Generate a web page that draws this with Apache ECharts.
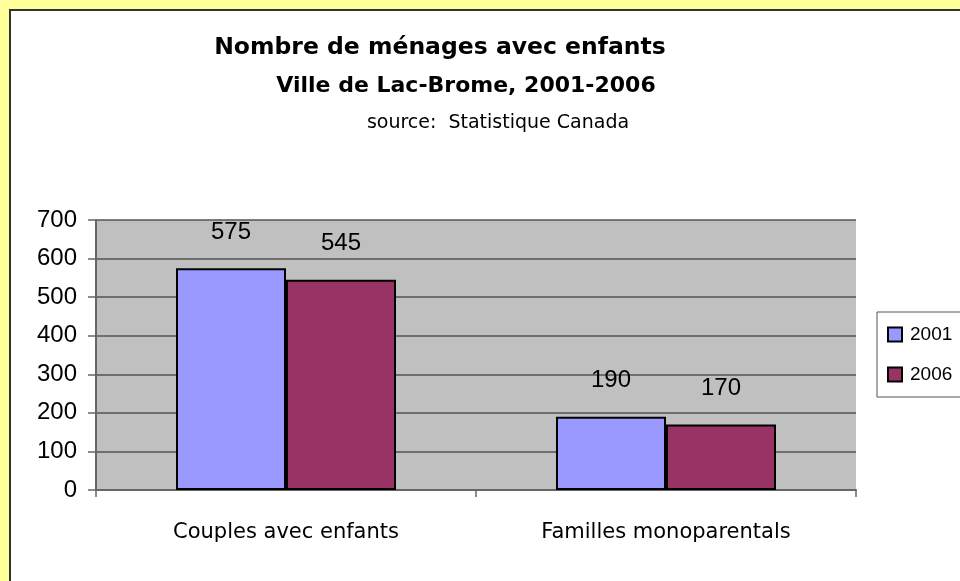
<!DOCTYPE html>
<html>
<head>
<meta charset="utf-8">
<script src="https://cdn.jsdelivr.net/npm/echarts@6/dist/echarts.min.js"></script>
<style>
  html, body { margin: 0; padding: 0; background: #FFFF99; }
  #chart { width: 960px; height: 581px; }
</style>
</head>
<body>
<div id="chart"></div>
<script>
// données
var categories = ['Couples avec enfants', 'Familles monoparentals']
var values2001 = [575, 190]
var values2006 = [545, 170]
var yTicks = [0, 100, 200, 300, 400, 500, 600, 700]

var chart = echarts.init(document.getElementById('chart'))

var labelStyle = {
  show: true,
  position: 'top',
  distance: 24,
  color: '#000',
  fontSize: 24,
  fontFamily: 'Liberation Sans'
}

var option = {
  backgroundColor: '#FFFF99',
  animation: false,
  graphic: [
    // zone blanche
    {
      type: 'rect',
      z: -10,
      shape: { x: 10, y: 10, width: 960, height: 590 },
      style: { fill: '#fff', stroke: '#333', lineWidth: 2 }
    },
    {
      type: 'text',
      x: 440, y: 48,
      style: {
        text: 'Nombre de ménages avec enfants',
        font: 'bold 23.5px "DejaVu Sans"',
        fill: '#000',
        textAlign: 'center',
        textVerticalAlign: 'middle'
      }
    },
    {
      type: 'text',
      x: 466, y: 86,
      style: {
        text: 'Ville de Lac-Brome, 2001-2006',
        font: 'bold 22px "DejaVu Sans"',
        fill: '#000',
        textAlign: 'center',
        textVerticalAlign: 'middle'
      }
    },
    {
      type: 'text',
      x: 498, y: 123,
      style: {
        text: 'source:  Statistique Canada',
        font: '19px "DejaVu Sans"',
        fill: '#000',
        textAlign: 'center',
        textVerticalAlign: 'middle'
      }
    }
  ],
  legend: {
    orient: 'vertical',
    left: 877,
    top: 312,
    width: 100,
    padding: [13, 40, 13, 10],
    itemGap: 21,
    itemWidth: 14,
    itemHeight: 14,
    borderColor: '#555',
    borderWidth: 1,
    backgroundColor: '#fff',
    icon: 'rect',
    itemStyle: { borderColor: '#000', borderWidth: 2 },
    textStyle: { fontSize: 19, fontFamily: 'Liberation Sans', color: '#000', padding: [0, 0, 0, 3] },
    data: ['2001', '2006']
  },
  grid: {
    left: 96,
    top: 220,
    right: 104,
    bottom: 91,
    show: true,
    backgroundColor: '#C0C0C0',
    borderWidth: 0
  },
  xAxis: {
    type: 'category',
    data: categories,
    axisLine: { lineStyle: { color: '#666', width: 2 } },
    axisTick: { show: true, length: 7, lineStyle: { color: '#666', width: 1.5 } },
    axisLabel: {
      margin: 32,
      fontSize: 21,
      fontFamily: 'DejaVu Sans',
      color: '#000'
    }
  },
  yAxis: {
    type: 'value',
    min: 0,
    max: 700,
    interval: 100,
    axisLine: { show: true, lineStyle: { color: '#666', width: 2 } },
    axisTick: { show: true, length: 8, lineStyle: { color: '#666', width: 1.5 } },
    splitLine: { lineStyle: { color: '#555', width: 1.5 } },
    axisLabel: {
      margin: 19,
      fontSize: 24,
      fontFamily: 'Liberation Sans',
      color: '#000',
      formatter: function(v) { return yTicks.indexOf(v) >= 0 ? String(v) : '' }
    }
  },
  series: [
    {
      name: '2001',
      type: 'bar',
      data: values2001,
      barWidth: 110,
      barGap: '0%',
      itemStyle: { color: '#9999FF', borderColor: '#000', borderWidth: 2 },
      label: labelStyle
    },
    {
      name: '2006',
      type: 'bar',
      data: values2006,
      barWidth: 110,
      barGap: '0%',
      itemStyle: { color: '#993366', borderColor: '#000', borderWidth: 2 },
      label: labelStyle
    }
  ]
}

chart.setOption(option)
</script>
</body>
</html>
